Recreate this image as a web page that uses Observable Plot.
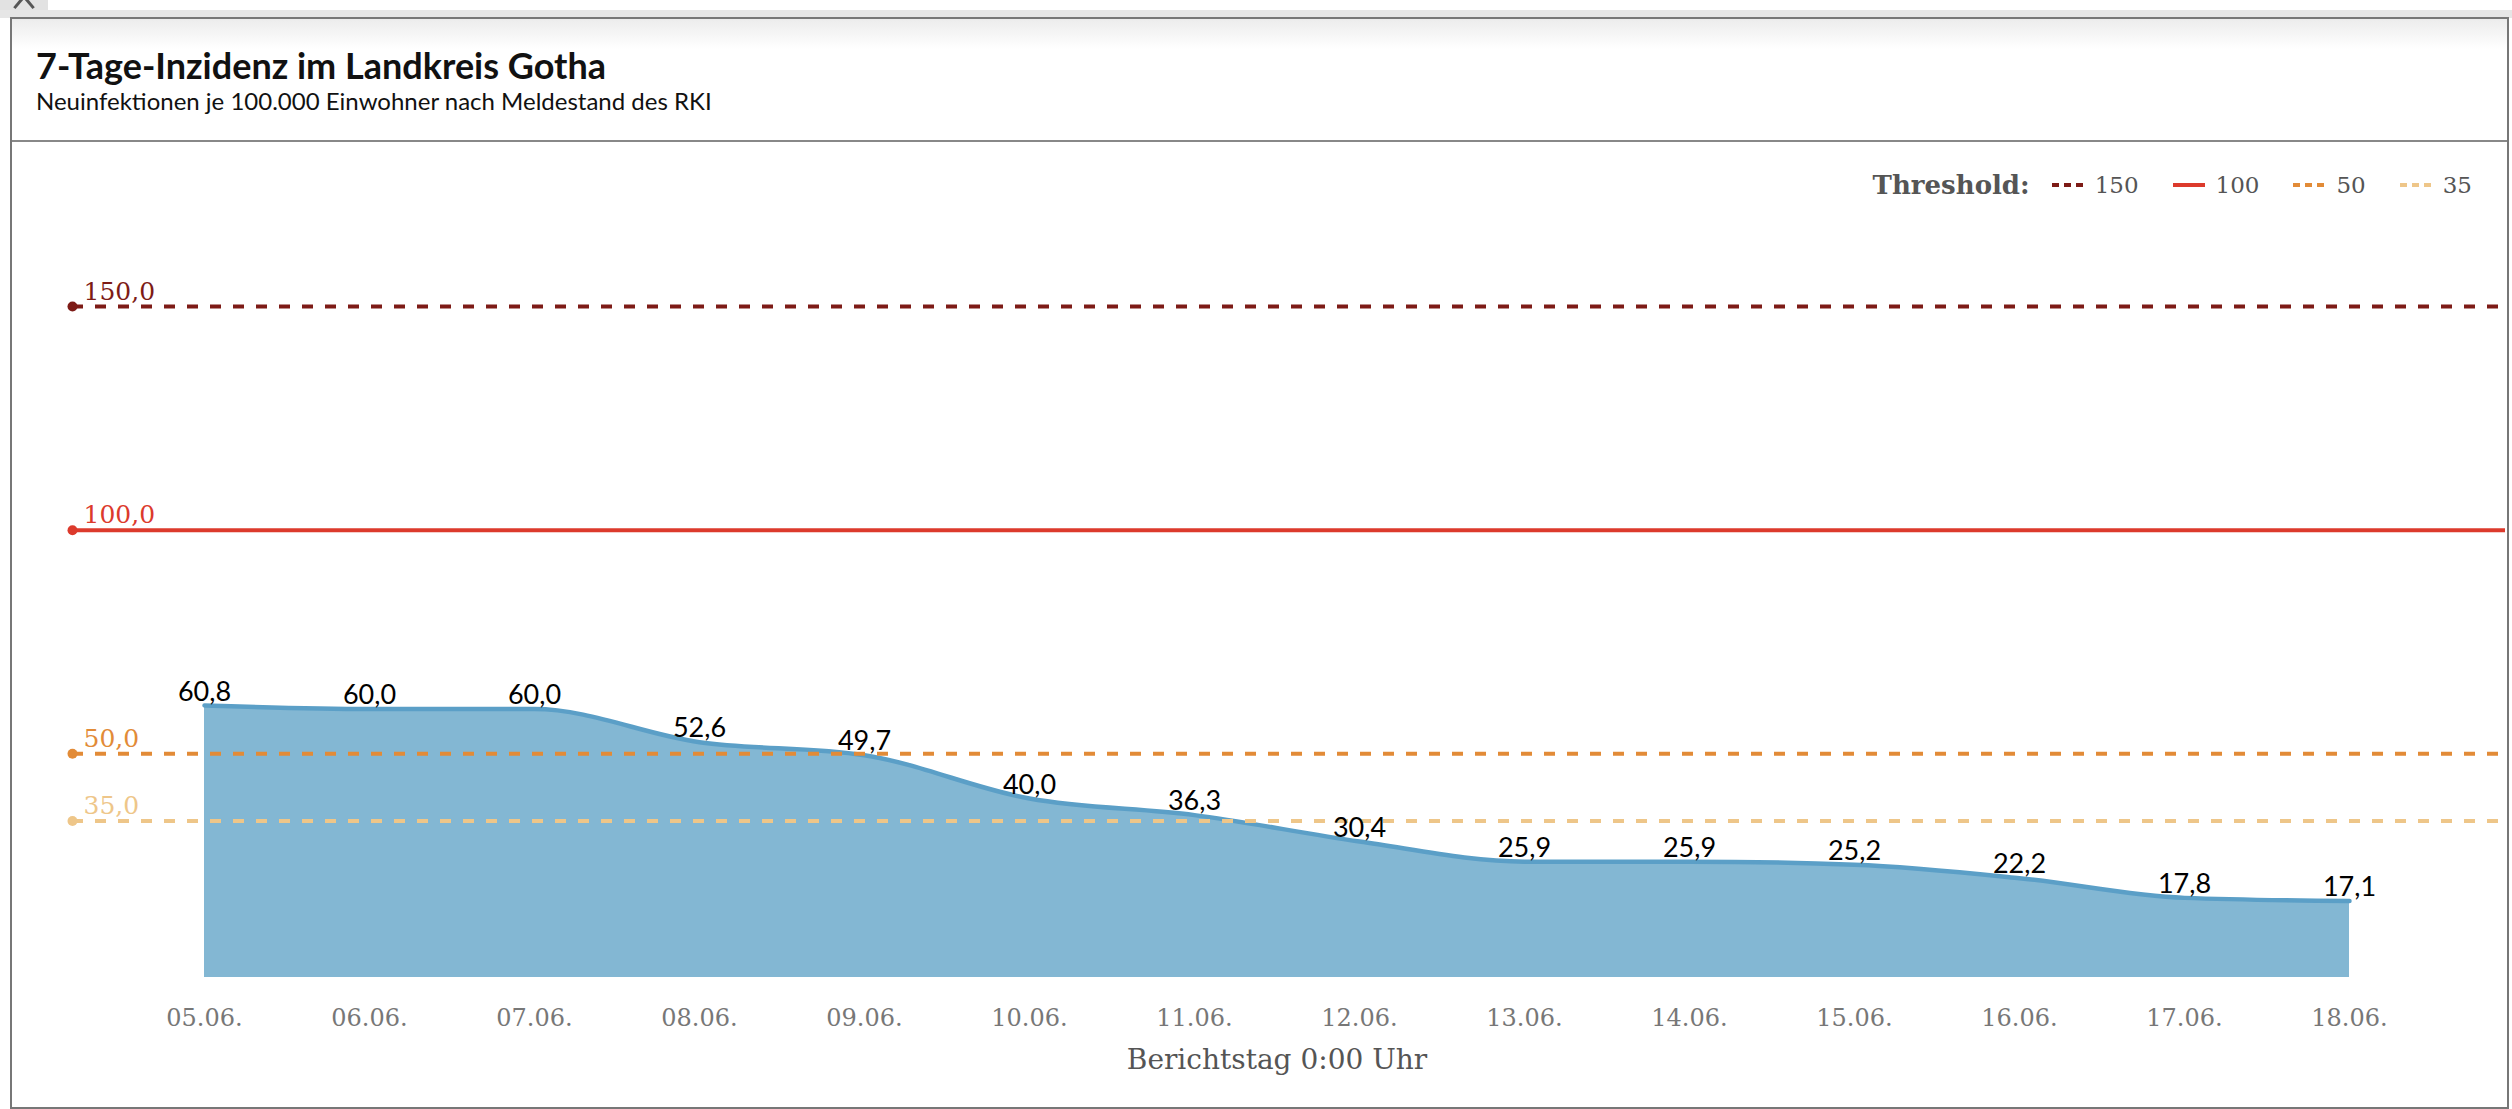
<!DOCTYPE html>
<html>
<head>
<meta charset="utf-8">
<script src="https://cdn.jsdelivr.net/npm/d3@7"></script>
<script src="https://cdn.jsdelivr.net/npm/@observablehq/plot@0.6"></script>
<style>
  html, body { margin: 0; padding: 0; background: #fff; width: 2512px; height: 1109px; overflow: hidden; }
  #topbar { position: absolute; left: 0; top: 10px; width: 2512px; height: 8px; background: #e6e6e6; }
  #icon { position: absolute; left: 0; top: 0; width: 48px; height: 10px; background: #e2e2e2; overflow: hidden; }
  #icon i { position: absolute; left: 22px; top: -6px; width: 3px; height: 16px; background: #555; }
  #icon i.a { transform: rotate(40deg); left: 18px; }
  #icon i.b { transform: rotate(-40deg); left: 27px; }
  #card { position: absolute; left: 10px; top: 17px; width: 2495px; height: 1088px; border: 2px solid #777; background: #fff; }
  #header { position: absolute; left: 0; top: 0; width: 2495px; height: 121px; border-bottom: 2px solid #888;
            background: linear-gradient(#ececec 0px, #fff 30px, #fff 100%); }
  #title { position: absolute; left: 24px; top: 25px; font: 700 36px Lato; line-height: 1.2; color: #111; white-space: nowrap; }
  #subtitle { position: absolute; left: 24px; top: 68px; font: 400 24px Lato; line-height: 1.2; color: #111; white-space: nowrap; }
  #legend { position: absolute; right: 40px; top: 170px; display: flex; align-items: center; font-family: "DejaVu Serif", serif; font-size: 23px; color: #555; }
  #legend b { margin-right: 22px; font-size: 26px; }
  .sw { display: inline-block; width: 32px; height: 4px; margin-right: 11px; }
  .it { margin-right: 34px; }
  #chart { position: absolute; left: 12px; top: 141px; }
</style>
</head>
<body>
<div id="icon"><i class="a"></i><i class="b"></i></div>
<div id="topbar"></div>
<div id="card">
  <div id="header">
    <div id="title">7-Tage-Inzidenz im Landkreis Gotha</div>
    <div id="subtitle">Neuinfektionen je 100.000 Einwohner nach Meldestand des RKI</div>
  </div>
</div>
<div id="legend"></div>
<div id="chart"></div>
<script>
const days = ["05.06.", "06.06.", "07.06.", "08.06.", "09.06.", "10.06.", "11.06.", "12.06.", "13.06.", "14.06.", "15.06.", "16.06.", "17.06.", "18.06."];
const incidence = [60.8, 60.0, 60.0, 52.6, 49.7, 40.0, 36.3, 30.4, 25.9, 25.9, 25.2, 22.2, 17.8, 17.1];
const thresholds = [150, 100, 50, 35];
const thresholdColors = ["#7d1b16", "#dc3a2c", "#e28b37", "#eec689"];
const thresholdDash = ["11,12", null, "11,12", "11,12"];
const legendTitle = "Threshold:";
const xTitle = "Berichtstag 0:00 Uhr";

const fmt = v => v.toFixed(1).replace(".", ",");
const data = days.map((d, i) => ({day: d, value: incidence[i]}));
const th = thresholds.map((t, i) => ({t, color: thresholdColors[i], dash: thresholdDash[i]}));

// legend
const leg = document.getElementById("legend");
leg.innerHTML = `<b>${legendTitle}</b>` + th.map((d, i) =>
  `<span class="sw" style="background:${d.dash ? `repeating-linear-gradient(90deg, ${d.color} 0 7px, transparent 7px 12px)` : d.color}"></span><span class="it" style="${i === th.length - 1 ? "margin-right:0" : ""}">${d.t}</span>`
).join("");

const W = 2493, H = 964;
const chart = Plot.plot({
  width: W,
  height: H,
  marginLeft: 60,
  marginRight: 0,
  marginTop: 0,
  marginBottom: 128,
  style: {background: "transparent", overflow: "visible"},
  x: {type: "point", domain: days, range: [192, 2337], padding: 0},
  y: {domain: [0, 150], range: [836, 165], axis: null},
  marks: [
    Plot.areaY(data, {x: "day", y: "value", curve: "monotone-x", fill: "#83b7d3"}),
    Plot.lineY(data, {x: "day", y: "value", curve: "monotone-x", stroke: "#5b9fc7", strokeWidth: 4.5}),
    ...th.map(d => Plot.ruleY([d.t], {stroke: d.color, strokeWidth: 4, strokeDasharray: d.dash})),
    Plot.dot(th, {y: "t", frameAnchor: "left", r: 5, fill: d => d.color, stroke: "none"}),
    Plot.text(th, {y: "t", frameAnchor: "left", text: d => fmt(d.t), fill: d => d.color, textAnchor: "start", lineAnchor: "bottom", dx: 11, dy: -7, fontSize: 25, fontFamily: "DejaVu Serif"}),
    Plot.text(data, {x: "day", y: "value", text: d => fmt(d.value), lineAnchor: "bottom", dy: -5, fontSize: 27, fontFamily: "Lato", fill: "#000"}),
    Plot.axisX({tickSize: 0, tickPadding: 31, fontSize: 24, fontFamily: "DejaVu Serif", color: "#777", label: null}),
    Plot.text([xTitle], {frameAnchor: "bottom", dx: -12, dy: 91, text: d => d, fontSize: 28, fontFamily: "DejaVu Serif", fill: "#555"})
  ]
});
document.getElementById("chart").appendChild(chart);
</script>
</body>
</html>
